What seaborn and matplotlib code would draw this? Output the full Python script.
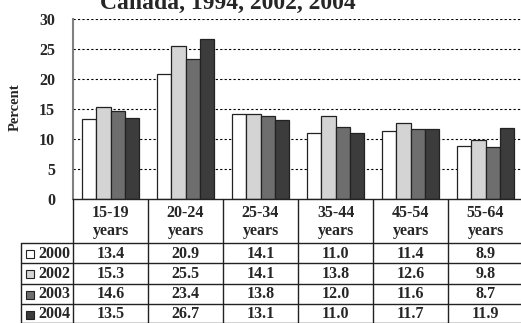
import matplotlib
matplotlib.use("Agg")
import matplotlib.pyplot as plt
import seaborn as sns
import pandas as pd
from matplotlib.patches import Rectangle
from matplotlib.lines import Line2D

categories = ["15-19\nyears", "20-24\nyears", "25-34\nyears", "35-44\nyears", "45-54\nyears", "55-64\nyears"]
years = ["2000", "2002", "2003", "2004"]
v2000 = [13.4, 20.9, 14.1, 11.0, 11.4, 8.9]
v2002 = [15.3, 25.5, 14.1, 13.8, 12.6, 9.8]
v2003 = [14.6, 23.4, 13.8, 12.0, 11.6, 8.7]
v2004 = [13.5, 26.7, 13.1, 11.0, 11.7, 11.9]
series = [v2000, v2002, v2003, v2004]
colors = ["#ffffff", "#d4d4d4", "#6e6e6e", "#3c3c3c"]
title = "Canada, 1994, 2002, 2004"

rows = []
for y, vals in zip(years, series):
    for c, v in zip(categories, vals):
        rows.append({"cat": c, "year": y, "value": v})
df = pd.DataFrame(rows)

sns.set_style("white")
plt.rcParams["font.family"] = ["Liberation Serif", "DejaVu Serif"]
plt.rcParams["font.weight"] = "bold"

W, H = 521, 323
fig = plt.figure(figsize=(W / 100, H / 100), dpi=100)

def fx(x):
    return x / W

def fy(y):
    return 1 - y / H

FS = 11.5

ax = fig.add_axes([fx(73), fy(199), fx(523) - fx(73), fy(19) - fy(199)])
sns.barplot(data=df, x="cat", y="value", hue="year", palette=colors,
            edgecolor="#222222", linewidth=0.9, width=0.75, ax=ax,
            legend=False, order=categories, hue_order=years)
ax.set_xlim(-0.5, len(categories) - 0.5)
ax.set_ylim(0, 30)
ax.set_yticks(range(0, 31, 5))
ax.set_xticks([])
ax.set_xlabel("")
ax.set_ylabel("")
for t in range(5, 31, 5):
    ax.axhline(t, color="black", linestyle=(0, (2, 2)), linewidth=0.8, zorder=0)
for s in ["top", "right"]:
    ax.spines[s].set_visible(False)
ax.spines["left"].set_color("#808080")
ax.spines["left"].set_linewidth(1.5)
ax.spines["bottom"].set_color("#222222")
ax.spines["bottom"].set_linewidth(1.0)
ax.tick_params(axis="y", direction="out", length=4, width=1, color="#222222",
               labelsize=FS, pad=9)
ax.set_axisbelow(True)
for lab in ax.get_yticklabels():
    lab.set_fontweight("bold")

# Percent label
fig.text(fx(15), fy(107), "Percent", rotation=90, ha="center", va="center",
         fontsize=10.5, fontweight="bold")

# Title (cropped at top, as in the source)
fig.text(fx(228), fy(8.5), title, ha="center", va="baseline",
         fontsize=17, fontweight="bold")

# Table
lc = "#222222"
col_x = [73 + 75 * k for k in range(len(categories) + 1)]
for x in col_x:
    fig.add_artist(Line2D([fx(x), fx(x)], [fy(199), fy(323)], color=lc, linewidth=1.0))
row_lines = [243, 263, 284, 304, 322.5]
for y in row_lines:
    fig.add_artist(Line2D([fx(21), fx(523)], [fy(y), fy(y)], color=lc, linewidth=1.0))
fig.add_artist(Line2D([fx(21), fx(21)], [fy(243), fy(323)], color=lc, linewidth=1.0))

for i, c in enumerate(categories):
    cx = (col_x[i] + col_x[i + 1]) / 2
    fig.text(fx(cx), fy(222), c, ha="center", va="center", fontsize=FS,
             fontweight="bold", linespacing=1.15)

row_centers = [254, 274, 294.5, 314.5]
for r, (y, vals, col) in enumerate(zip(years, series, colors)):
    cy = row_centers[r]
    fig.add_artist(Rectangle((fx(26), fy(cy + 4)), fx(8), fy(0) - fy(8),
                             facecolor=col, edgecolor=lc, linewidth=0.8))
    fig.text(fx(70), fy(cy), y, ha="right", va="center", fontsize=FS,
             fontweight="bold")
    for i, v in enumerate(vals):
        cx = (col_x[i] + col_x[i + 1]) / 2
        fig.text(fx(cx), fy(cy), f"{v:.1f}", ha="center", va="center",
                 fontsize=FS, fontweight="bold")

fig.savefig("out.png", dpi=100)
